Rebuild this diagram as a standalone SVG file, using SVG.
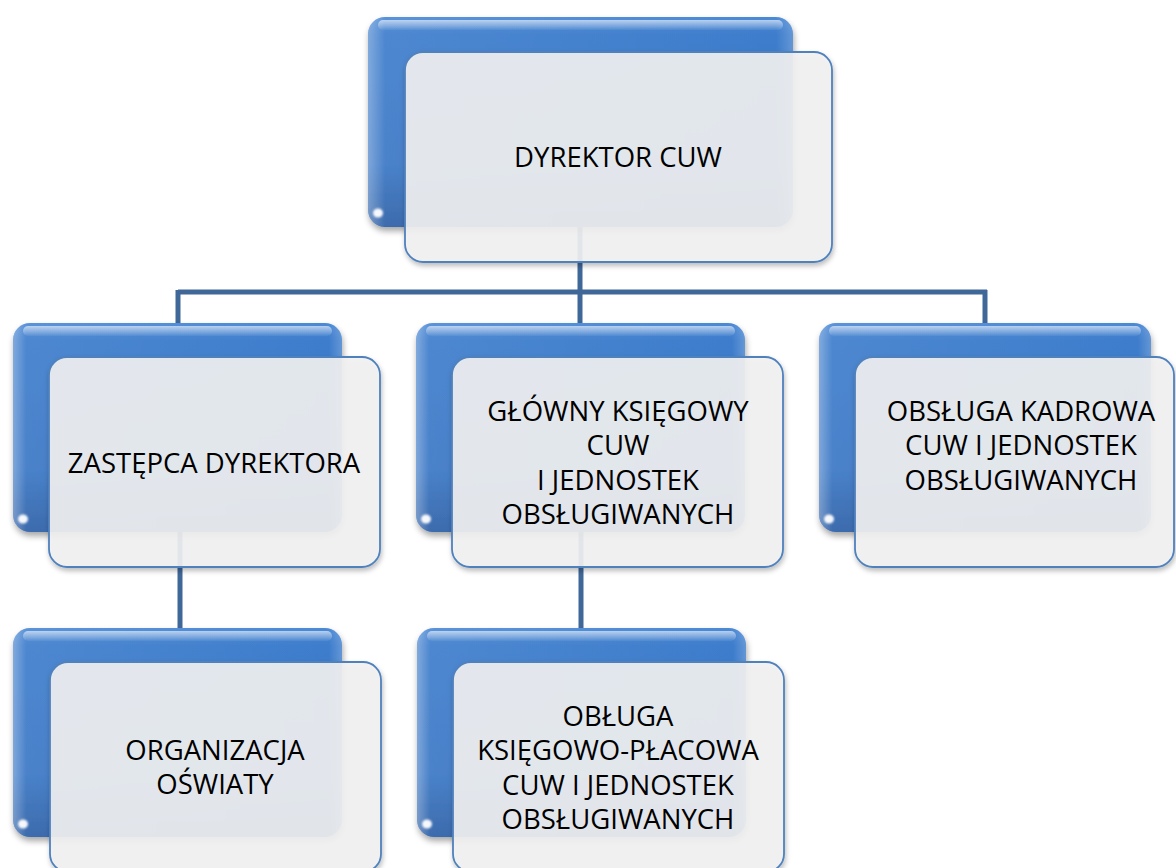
<svg xmlns="http://www.w3.org/2000/svg" width="1176" height="868" viewBox="0 0 1176 868">
  <defs>
    <linearGradient id="gBack" x1="0" y1="0" x2="0" y2="1">
      <stop offset="0" stop-color="#4d8ad6"/>
      <stop offset="0.08" stop-color="#3e7dcc"/>
      <stop offset="0.7" stop-color="#3a77c5"/>
      <stop offset="1" stop-color="#2c5fa6"/>
    </linearGradient>
    <linearGradient id="gSide" x1="0" y1="0" x2="1" y2="0">
      <stop offset="0" stop-color="#ffffff" stop-opacity="0.35"/>
      <stop offset="0.04" stop-color="#ffffff" stop-opacity="0.08"/>
      <stop offset="0.96" stop-color="#ffffff" stop-opacity="0"/>
      <stop offset="1" stop-color="#ffffff" stop-opacity="0.2"/>
    </linearGradient>
    <linearGradient id="gGloss" x1="0" y1="0" x2="0" y2="1">
      <stop offset="0" stop-color="#ffffff" stop-opacity="0.6"/>
      <stop offset="1" stop-color="#ffffff" stop-opacity="0.05"/>
    </linearGradient>
    <filter id="shadow" x="-10%" y="-10%" width="125%" height="130%">
      <feDropShadow dx="1" dy="4" stdDeviation="3" flood-color="#000" flood-opacity="0.35"/>
    </filter>
    <filter id="shadowF" x="-10%" y="-10%" width="125%" height="130%">
      <feDropShadow dx="1" dy="3" stdDeviation="2.5" flood-color="#000" flood-opacity="0.28"/>
    </filter>
    <filter id="soft" x="-50%" y="-50%" width="200%" height="200%">
      <feGaussianBlur stdDeviation="1.3"/>
    </filter>
  </defs>
  <style>
    .back { fill: url(#gBack); filter: url(#shadow); }
    .side { fill: url(#gSide); }
    .gloss { fill: url(#gGloss); }
    .bead { fill: #ffffff; opacity: 0.95; filter: url(#soft); }
    .front { fill: #f2f2f2; fill-opacity: 0.9; stroke: #4f81bd; stroke-width: 1.8; filter: url(#shadowF); }
    .conn { fill: none; stroke: #3f6798; stroke-width: 5; }
    .lbl { font-family: "Open Sans", "Liberation Sans", sans-serif; font-size: 27.5px; fill: #000; text-anchor: middle; }
  </style>
  <rect width="1176" height="868" fill="#ffffff"/>

  <g id="connectors">
    <path class="conn" d="M580,227 V292"/>
    <path class="conn" d="M178,292 H987"/>
    <path class="conn" d="M178,290 V323"/>
    <path class="conn" d="M580,292 V323"/>
    <path class="conn" d="M985,290 V323"/>
    <path class="conn" d="M180,532 V628"/>
    <path class="conn" d="M581,532 V628"/>
  </g>

  <g id="node-dyrektor">
    <rect class="back" x="368" y="17" width="425" height="210" rx="17"/>
    <rect class="side" x="368" y="17" width="425" height="210" rx="17"/>
    <rect class="gloss" x="378" y="20" width="405" height="10" rx="5"/>
    <ellipse class="bead" cx="378" cy="213" rx="5" ry="4.5"/>
    <rect class="front" x="405" y="52" width="427" height="210" rx="18"/>
    <text class="lbl" x="618" y="167">DYREKTOR CUW</text>
  </g>

  <g id="node-zastepca">
    <rect class="back" x="13" y="323" width="329" height="209" rx="17"/>
    <rect class="side" x="13" y="323" width="329" height="209" rx="17"/>
    <rect class="gloss" x="23" y="326" width="309" height="10" rx="5"/>
    <ellipse class="bead" cx="23" cy="519" rx="5" ry="4.5"/>
    <rect class="front" x="49" y="357" width="331" height="210" rx="18"/>
    <text class="lbl" x="214" y="473">ZASTĘPCA DYREKTORA</text>
  </g>

  <g id="node-ksiegowy">
    <rect class="back" x="416" y="323" width="329" height="209" rx="17"/>
    <rect class="side" x="416" y="323" width="329" height="209" rx="17"/>
    <rect class="gloss" x="426" y="326" width="309" height="10" rx="5"/>
    <ellipse class="bead" cx="426" cy="519" rx="5" ry="4.5"/>
    <rect class="front" x="452" y="357" width="331" height="210" rx="18"/>
    <text class="lbl" x="618" y="421">GŁÓWNY KSIĘGOWY</text>
    <text class="lbl" x="618" y="455">CUW</text>
    <text class="lbl" x="618" y="490">I JEDNOSTEK</text>
    <text class="lbl" x="618" y="524">OBSŁUGIWANYCH</text>
  </g>

  <g id="node-kadrowa">
    <rect class="back" x="819" y="323" width="332" height="209" rx="17"/>
    <rect class="side" x="819" y="323" width="332" height="209" rx="17"/>
    <rect class="gloss" x="829" y="326" width="312" height="10" rx="5"/>
    <ellipse class="bead" cx="829" cy="519" rx="5" ry="4.5"/>
    <rect class="front" x="855" y="357" width="319" height="210" rx="18"/>
    <text class="lbl" x="1021" y="421">OBSŁUGA KADROWA</text>
    <text class="lbl" x="1021" y="455">CUW I JEDNOSTEK</text>
    <text class="lbl" x="1021" y="490">OBSŁUGIWANYCH</text>
  </g>

  <g id="node-oswiata">
    <rect class="back" x="13" y="628" width="329" height="209" rx="17"/>
    <rect class="side" x="13" y="628" width="329" height="209" rx="17"/>
    <rect class="gloss" x="23" y="631" width="309" height="10" rx="5"/>
    <ellipse class="bead" cx="23" cy="824" rx="5" ry="4.5"/>
    <rect class="front" x="50" y="662" width="331" height="210" rx="18"/>
    <text class="lbl" x="215" y="760">ORGANIZACJA</text>
    <text class="lbl" x="215" y="794">OŚWIATY</text>
  </g>

  <g id="node-placowa">
    <rect class="back" x="417" y="628" width="329" height="209" rx="17"/>
    <rect class="side" x="417" y="628" width="329" height="209" rx="17"/>
    <rect class="gloss" x="427" y="631" width="309" height="10" rx="5"/>
    <ellipse class="bead" cx="427" cy="824" rx="5" ry="4.5"/>
    <rect class="front" x="453" y="662" width="331" height="210" rx="18"/>
    <text class="lbl" x="618" y="726">OBŁUGA</text>
    <text class="lbl" x="618" y="760">KSIĘGOWO-PŁACOWA</text>
    <text class="lbl" x="618" y="795">CUW I JEDNOSTEK</text>
    <text class="lbl" x="618" y="829">OBSŁUGIWANYCH</text>
  </g>
</svg>
